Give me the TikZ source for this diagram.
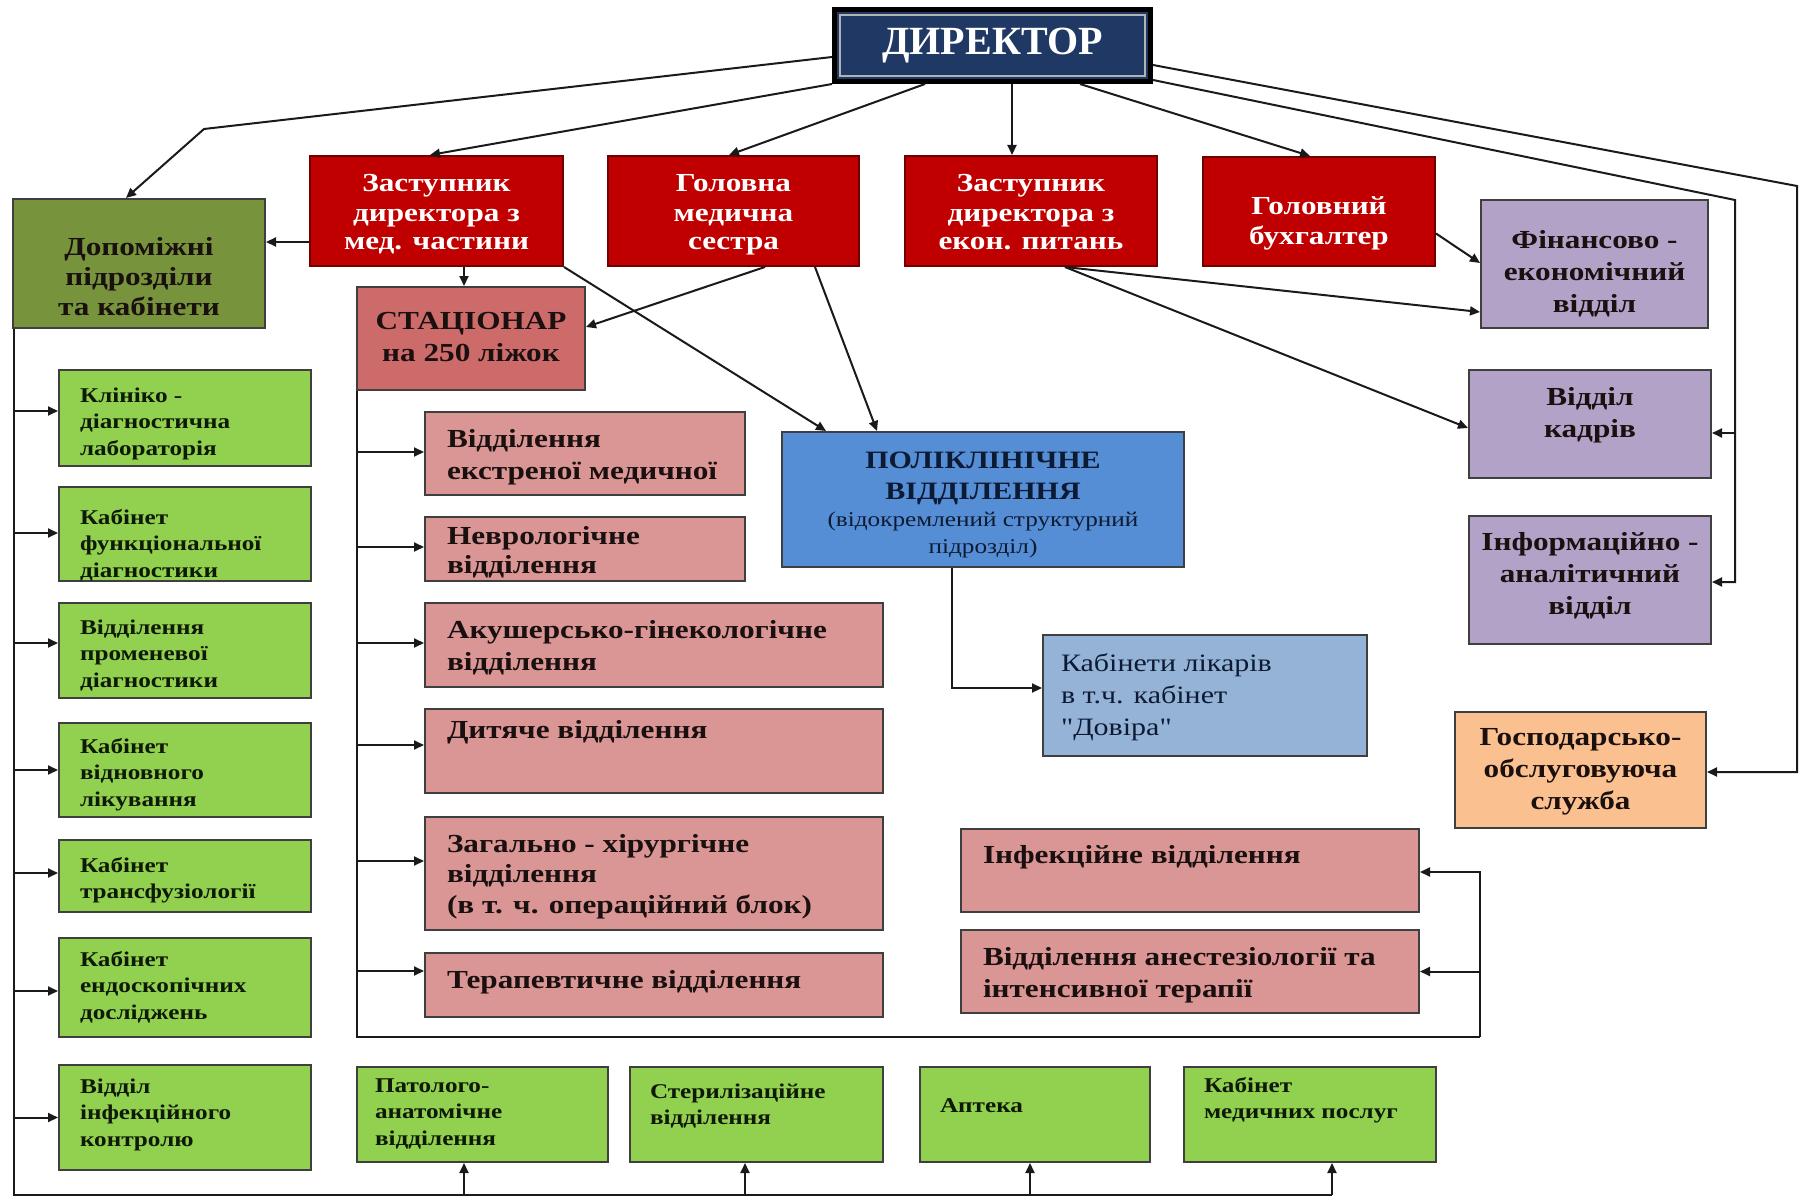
\documentclass[tikz,border=0pt]{standalone}
\usepackage{fontspec}
\setmainfont{Liberation Serif}[FakeStretch=1.2]
\newfontfamily\dirfont{Liberation Serif}
% same face without TeX ligatures, so that " stays a straight quote
\newfontfamily\plainfont{Liberation Serif}[FakeStretch=1.2]
\usetikzlibrary{arrows.meta,calc}

\definecolor{dirblue}{HTML}{1F3864}
\definecolor{hred}{HTML}{C00000}
\definecolor{olive}{HTML}{77933C}
\definecolor{lgreen}{HTML}{92D050}
\definecolor{stacred}{HTML}{CD6A6A}
\definecolor{pinkfill}{HTML}{D99694}
\definecolor{lavender}{HTML}{B3A2C7}
\definecolor{polblue}{HTML}{558ED5}
\definecolor{kabblue}{HTML}{95B3D7}
\definecolor{orangefill}{HTML}{FAC090}
\definecolor{boxline}{HTML}{3F3F3F}
\definecolor{lineclr}{HTML}{1A1A1A}
\definecolor{darktext}{HTML}{1A1010}
\definecolor{greentext}{HTML}{0E1A06}
\definecolor{navytext}{HTML}{0D1A33}

% box bodies: width, height, first baseline (all in pt), [indent], text
\newcommand{\cbody}[4]{\parbox[c][#2pt][t]{#1pt}{\centering\rule{0pt}{#3pt}#4\par}}
\newcommand{\lbody}[5]{\parbox[c][#2pt][t]{#1pt}{\raggedright\leftskip=#4pt\relax\rule{0pt}{#3pt}#5\par}}

\tikzset{
  unitbox/.style={draw=boxline, line width=2pt, inner sep=0pt},
  dirbox/.style={draw=black, line width=5pt, fill=dirblue, inner sep=0pt,
    minimum width=316pt, minimum height=72pt, text=white,
    font=\dirfont\fontsize{40}{44}\selectfont\bfseries},
  redbox/.style={unitbox, draw=red!45!black, fill=hred, text=white,
    font=\fontsize{26}{29}\selectfont\bfseries},
  olivebox/.style={unitbox, fill=olive, text=darktext,
    font=\fontsize{26}{30}\selectfont\bfseries},
  stacbox/.style={unitbox, fill=stacred, text=darktext,
    font=\fontsize{26}{32}\selectfont\bfseries},
  lavbox/.style={unitbox, fill=lavender, text=darktext,
    font=\fontsize{26}{32}\selectfont\bfseries},
  orbox/.style={unitbox, fill=orangefill, text=darktext,
    font=\fontsize{26}{32}\selectfont\bfseries},
  polbox/.style={unitbox, fill=polblue, text=navytext,
    font=\fontsize{25}{31}\selectfont\bfseries},
  kabbox/.style={unitbox, fill=kabblue, text=navytext,
    font=\plainfont\fontsize{25}{32}\selectfont},
  pinkbox/.style={unitbox, fill=pinkfill, text=darktext,
    font=\fontsize{26}{32}\selectfont\bfseries},
  greenbox/.style={unitbox, fill=lgreen, text=greentext,
    font=\fontsize{21}{26.5}\selectfont\bfseries},
  conn/.style={draw=lineclr, line width=2pt},
  arr/.style={conn, -{Triangle[length=10pt,width=9pt]}},
}

\begin{document}
\begin{tikzpicture}[x=1pt,y=-1pt]
\useasboundingbox (0,0) rectangle (1805,1196);
\fill[white] (0,0) rectangle (1805,1196);

% management
\node[dirbox] (dir) at (992.5,45.5) {ДИРЕКТОР};
\draw[draw=gray!60, line width=1.2pt]
  ([shift={(8pt,-8pt)}]dir.north west) rectangle ([shift={(-8pt,8pt)}]dir.south east);

\node[redbox] (zmed) at (436.5,211) {\cbody{253}{110}{36}{Заступник\\директора з\\мед. частини}};
\node[redbox] (gms) at (733.5,211) {\cbody{251}{110}{36}{Головна\\медична\\сестра}};
\node[redbox] (zek) at (1031,211) {\cbody{252}{110}{36}{Заступник\\директора з\\екон. питань}};
\node[redbox] (gbuh) at (1319,211.5) {\cbody{232}{109}{57}{Головний\\[2pt]бухгалтер}};

% support units
\node[olivebox] (dop) at (139,263.5) {\cbody{252}{129}{56}{Допоміжні\\підрозділи\\та кабінети}};
\node[stacbox] (stac) at (471,338.5) {\cbody{228}{103}{42}{СТАЦІОНАР\\на 250 ліжок}};

% administrative departments
\node[lavbox] (fin) at (1594.5,264) {\cbody{227}{128}{48}{Фінансово -\\економічний\\відділ}};
\node[lavbox] (kadr) at (1590,424) {\cbody{242}{108}{35}{Відділ\\кадрів}};
\node[lavbox] (inf) at (1590,580) {\cbody{242}{128}{34}{Інформаційно -\\аналітичний\\відділ}};
\node[orbox] (gosp) at (1580.5,770) {\cbody{251}{116}{33}{Господарсько-\\обслуговуюча\\служба}};

% outpatient unit
\node[polbox] (pol) at (983,499.5) {\cbody{402}{135}{36}{ПОЛІКЛІНІЧНЕ\\ВІДДІЛЕННЯ\\{\fontsize{21}{27}\selectfont\mdseries (відокремлений структурний\\підрозділ)\par}}};
\node[kabbox] (kab) at (1205,695.5) {\lbody{324}{121}{36}{18}{Кабінети лікарів\\в т.ч. кабінет\\"Довіра"}};

% inpatient departments
\node[pinkbox] (ext) at (585,453.5) {\lbody{320}{83}{35}{22}{Відділення\\екстреної медичної}};
\node[pinkbox] (nevr) at (585,549) {\lbody{320}{64}{27}{22}{Неврологічне\\[-3pt]відділення}};
\node[pinkbox] (akush) at (654,645) {\lbody{458}{84}{35}{22}{Акушерсько-гінекологічне\\відділення}};
\node[pinkbox] (dyt) at (654,751) {\lbody{458}{84}{29}{22}{Дитяче відділення}};
\node[pinkbox] (zag) at (654,873.5) {\lbody{458}{113}{35}{22}{Загально - хірургічне\\[-1.5pt]відділення\\[-1.5pt](в т. ч. операційний блок)}};
\node[pinkbox] (ter) at (654,985) {\lbody{458}{64}{35}{22}{Терапевтичне відділення}};
\node[pinkbox] (infv) at (1190,870.5) {\lbody{458}{83}{34}{22}{Інфекційне відділення}};
\node[pinkbox] (anest) at (1190,971.5) {\lbody{458}{83}{35}{22}{Відділення анестезіології та\\інтенсивної терапії}};

% diagnostic and auxiliary rooms
\node[greenbox] (klin) at (185,418) {\lbody{252}{96}{32}{21}{Клініко -\\діагностична\\лабораторія}};
\node[greenbox] (funk) at (185,534) {\lbody{252}{94}{37}{21}{Кабінет\\функціональної\\діагностики}};
\node[greenbox] (prom) at (185,650.5) {\lbody{252}{95}{31}{21}{Відділення\\променевої\\діагностики}};
\node[greenbox] (vidn) at (185,770) {\lbody{252}{94}{30}{21}{Кабінет\\відновного\\лікування}};
\node[greenbox] (trans) at (185,876) {\lbody{252}{72}{32}{21}{Кабінет\\трансфузіології}};
\node[greenbox] (endo) at (185,987.5) {\lbody{252}{99}{28}{21}{Кабінет\\ендоскопічних\\досліджень}};
\node[greenbox] (infk) at (185,1117.5) {\lbody{252}{105}{28}{21}{Відділ\\інфекційного\\контролю}};

\node[greenbox] (pat) at (482.5,1114.5) {\lbody{251}{95}{25}{18}{Патолого-\\анатомічне\\відділення}};
\node[greenbox] (ster) at (756.5,1114.5) {\lbody{253}{95}{31}{20}{Стерилізаційне\\відділення}};
\node[greenbox] (apt) at (1035,1114.5) {\lbody{230}{95}{45}{20}{Аптека}};
\node[greenbox] (kmp) at (1310,1114.5) {\lbody{252}{95}{25}{20}{Кабінет\\медичних послуг}};

% links from the director
\draw[arr] ([yshift=27pt]dir.south west) -- (204,129) -- ([xshift=-13pt]dop.north);
\draw[arr] (dir.south west) -- ([xshift=-6.5pt]zmed.north);
\draw[arr] ([xshift=93pt]dir.south west) -- ([xshift=-4.5pt]gms.north);
\draw[arr] ([xshift=180pt]dir.south west) -- ([xshift=-19pt]zek.north);
\draw[arr] ([xshift=248pt]dir.south west) -- ([xshift=-9pt]gbuh.north);
\coordinate (rA) at (1735,200);
\coordinate (rB) at (1797,186);
\draw[arr] ([yshift=4pt]dir.south east) -- (rA) |- ([yshift=-2pt]inf.east);
\coordinate (kadrIn) at ([yshift=-9pt]kadr.east);
\draw[arr] (rA |- kadrIn) -- (kadrIn);
\draw[arr] ([yshift=19pt]dir.south east) -- (rB) |- ([yshift=-2pt]gosp.east);

% links from the deputies
\coordinate (zmL) at ([yshift=-31pt]zmed.west);
\draw[arr] (zmL) -- (zmL -| dop.east);
\coordinate (stT) at ([xshift=-7pt]stac.north);
\draw[arr] (stT |- zmed.south) -- (stT);
\draw[arr] (zmed.south east) -- ([xshift=45pt]pol.north west);
\draw[arr] ([xshift=31.5pt]gms.south) -- ([yshift=11.5pt]stac.east);
\draw[arr] ([xshift=81.5pt]gms.south) -- ([xshift=96pt]pol.north west);
\draw[arr] ([xshift=34pt]zek.south) -- ([yshift=-48pt]fin.west);
\draw[arr] ([xshift=34pt]zek.south) -- ([yshift=-4pt]kadr.west);
\draw[arr] ([yshift=-22pt]gbuh.east) -- ([yshift=1pt]fin.west);
\draw[arr] ([xshift=-31pt]pol.south) |- ([yshift=7.5pt]kab.west);

% inpatient frame
\coordinate (fA) at (357,1037);
\coordinate (fB) at (1480,1037);
\draw[conn] (fA |- stac.south) -- (fA) -- (fB);
\draw[arr] (fB) |- ([yshift=-1.5pt]infv.east);
\coordinate (anIn) at (anest.east);
\draw[arr] (fB |- anIn) -- (anIn);
\foreach \n/\s in {ext/1.5, nevr/2, akush/2, dyt/6, zag/12.5, ter/14}{
  \path ([yshift=\s pt]\n.west) coordinate (tip);
  \draw[arr] (fA |- tip) -- (tip);
}

% auxiliary trunk
\coordinate (tA) at (14,1195);
\coordinate (tB) at (1332,1195);
\draw[conn] (tA |- dop.south) -- (tA) -- (tB);
\draw[arr] (tB) -- (tB |- kmp.south);
\foreach \n/\s in {pat/-18.5, ster/-11.5, apt/-5}{
  \path ([xshift=\s pt]\n.south) coordinate (tip);
  \draw[arr] (tA -| tip) -- (tip);
}
\foreach \n/\s in {klin/7, funk/1, prom/7.5, vidn/0, trans/3, endo/-3.5, infk/0}{
  \path ([yshift=\s pt]\n.west) coordinate (tip);
  \draw[arr] (tA |- tip) -- (tip);
}
\end{tikzpicture}
\end{document}
